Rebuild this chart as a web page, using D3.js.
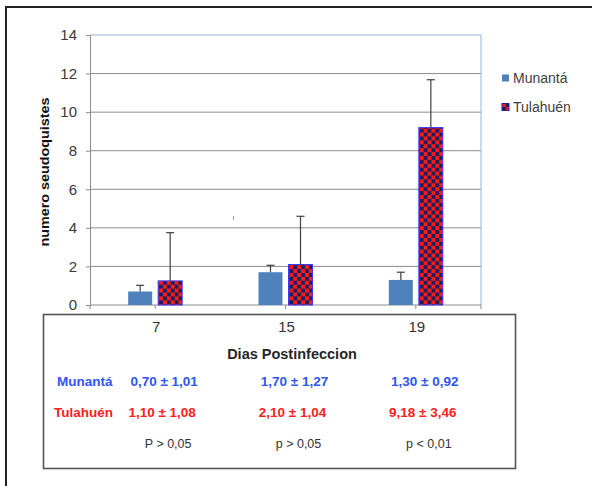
<!DOCTYPE html>
<html>
<head>
<meta charset="utf-8">
<script src="https://cdn.jsdelivr.net/npm/d3@7"></script>
<style>
  body { margin: 0; background: #fff; }
  svg { display: block; font-family: "Liberation Sans", Arial, sans-serif; }
</style>
</head>
<body>
<div id="root"></div>
<script>
// dias postinfeccion
const categories = ["7", "15", "19"]
const series = ["Munantá", "Tulahuén"]
// bar heights
const munanta = [0.70, 1.70, 1.30]
const munantaErr = [0.32, 0.36, 0.40]
const tulahuen = [1.25, 2.10, 9.20]
const tulahuenErr = [2.50, 2.50, 2.48]
const yTicks = [0, 2, 4, 6, 8, 10, 12, 14]
// table under the chart
const munantaText = ["0,70 ± 1,01", "1,70 ± 1,27", "1,30 ± 0,92"]
const tulahuenText = ["1,10 ± 1,08", "2,10 ± 1,04", "9,18 ± 3,46"]
const pText = ["P > 0,05", "p > 0,05", "p < 0,01"]

const width = 592, height = 486
const BLUE_BAR = "#4f81bd", RED = "#ff1a1a", NAVY = "#1c1f5c"
const TXT_BLUE = "#2f55f2", TXT_RED = "#ff2020"

const svg = d3.select('#root').append('svg')
  .attr('width', width)
  .attr('height', height)

// checker pattern for Tulahuén
const defs = svg.append('defs')
const pat = defs.append('pattern')
  .attr('id', 'checker')
  .attr('patternUnits', 'userSpaceOnUse')
  .attr('width', 7.8).attr('height', 7.8)
pat.append('rect').attr('width', 7.8).attr('height', 7.8).attr('fill', RED)
pat.append('rect').attr('width', 3.9).attr('height', 3.9).attr('fill', NAVY)
pat.append('rect').attr('x', 3.9).attr('y', 3.9).attr('width', 3.9).attr('height', 3.9).attr('fill', NAVY)

// outer frame (only top + left visible)
svg.append('path')
  .attr('d', `M6,${height} V7 H${width}`)
  .attr('fill', 'none')
  .attr('stroke', '#222')
  .attr('stroke-width', 2)

const x = d3.scaleBand().domain(categories).range([90, 481])
const xs = d3.scaleBand().domain(series).range([-27, 27]).paddingInner(0.2)
const y = d3.scaleLinear().domain([0, 14]).range([305, 35])
const cx = c => x(c) + x.bandwidth() / 2

// gridlines
svg.append('g')
  .selectAll('line')
  .data(yTicks.filter(d => d > 0 && d < 14))
  .enter().append('line')
  .attr('x1', 90).attr('x2', 481)
  .attr('y1', d => y(d)).attr('y2', d => y(d))
  .attr('stroke', '#8c8c8c')
  .attr('stroke-width', 1)

// plot area border top / right (bluish)
svg.append('path')
  .attr('d', `M90,${y(14)} H481 V${y(0)}`)
  .attr('fill', 'none')
  .attr('stroke', '#95b3d7')
  .attr('stroke-width', 1)

// y axis
const yAxis = svg.append('g')
  .attr('transform', 'translate(90,0)')
  .call(d3.axisLeft(y).tickValues(yTicks).tickSize(4).tickPadding(9))
yAxis.select('.domain').attr('stroke', '#8c8c8c')
yAxis.selectAll('.tick line').attr('stroke', '#8c8c8c')
yAxis.selectAll('.tick text')
  .attr('fill', '#3a3a3a')
  .style('font-size', '15px')
  .style('font-family', '"Liberation Sans", Arial, sans-serif')

// x axis line and ticks
svg.append('line')
  .attr('x1', 90).attr('x2', 481)
  .attr('y1', y(0)).attr('y2', y(0))
  .attr('stroke', '#8c8c8c')
svg.append('g')
  .selectAll('line')
  .data([90, ...categories.map(cx), 481])
  .enter().append('line')
  .attr('x1', d => d).attr('x2', d => d)
  .attr('y1', y(0)).attr('y2', y(0) + 4)
  .attr('stroke', '#8c8c8c')

// y label
svg.append('text')
  .attr('transform', `translate(49,172) rotate(-90)`)
  .attr('text-anchor', 'middle')
  .attr('textLength', 149)
  .attr('lengthAdjust', 'spacingAndGlyphs')
  .style('font-size', '12px')
  .style('font-weight', 'bold')
  .attr('fill', '#111')
  .text('numero seudoquistes')

// bars
const rows = categories.map((c, i) => ({
  c,
  vals: [
    { s: series[0], v: munanta[i], e: munantaErr[i] },
    { s: series[1], v: tulahuen[i], e: tulahuenErr[i] },
  ]
}))

const groups = svg.append('g')
  .selectAll('g')
  .data(rows)
  .enter().append('g')
  .attr('transform', d => `translate(${cx(d.c)},0)`)

groups.selectAll('rect')
  .data(d => d.vals)
  .enter().append('rect')
  .attr('x', d => xs(d.s))
  .attr('width', xs.bandwidth())
  .attr('y', d => y(d.v))
  .attr('height', d => y(0) - y(d.v))
  .attr('fill', d => d.s === series[0] ? BLUE_BAR : 'url(#checker)')
  .attr('stroke', d => d.s === series[0] ? 'none' : '#3a3aff')
  .attr('stroke-width', 1)

// error bars (plus side only)
const err = groups.selectAll('g.err')
  .data(d => d.vals)
  .enter().append('g')
  .attr('class', 'err')
  .attr('stroke', '#404040')
  .attr('stroke-width', 1.2)
err.append('line')
  .attr('x1', d => xs(d.s) + xs.bandwidth() / 2)
  .attr('x2', d => xs(d.s) + xs.bandwidth() / 2)
  .attr('y1', d => y(d.v))
  .attr('y2', d => y(d.v + d.e))
err.append('line')
  .attr('x1', d => xs(d.s) + xs.bandwidth() / 2 - 4)
  .attr('x2', d => xs(d.s) + xs.bandwidth() / 2 + 4)
  .attr('y1', d => y(d.v + d.e))
  .attr('y2', d => y(d.v + d.e))

// stray mark in the original
svg.append('line')
  .attr('x1', 233.5).attr('x2', 233.5)
  .attr('y1', 216).attr('y2', 220)
  .attr('stroke', '#999')

// legend
const legend = svg.append('g')
  .selectAll('g')
  .data(series)
  .enter().append('g')
  .attr('transform', (d, i) => `translate(502,${78 + i * 29})`)
legend.append('rect')
  .attr('x', 0).attr('y', -3.5)
  .attr('width', 7).attr('height', 7)
  .attr('fill', (d, i) => i === 0 ? BLUE_BAR : 'url(#checker)')
  .attr('stroke', (d, i) => i === 0 ? 'none' : '#2222aa')
legend.append('text')
  .attr('x', 11)
  .attr('dy', '0.35em')
  .style('font-size', '14px')
  .attr('fill', '#404040')
  .text(d => d)

// table box
svg.append('rect')
  .attr('x', 43.5).attr('y', 314.5)
  .attr('width', 472).attr('height', 154)
  .attr('fill', 'none')
  .attr('stroke', '#555')
  .attr('stroke-width', 1.6)

svg.append('g')
  .selectAll('text')
  .data(categories)
  .enter().append('text')
  .attr('x', d => cx(d) + 1)
  .attr('y', 327)
  .attr('dy', '0.35em')
  .attr('text-anchor', 'middle')
  .style('font-size', '15px')
  .attr('fill', '#333')
  .text(d => d)

svg.append('text')
  .attr('x', 292).attr('y', 354)
  .attr('dy', '0.35em')
  .attr('text-anchor', 'middle')
  .style('font-size', '14.5px')
  .style('font-weight', 'bold')
  .attr('fill', '#262626')
  .text('Dias Postinfeccion')

const tableRows = [
  { label: series[0], cells: munantaText, color: TXT_BLUE, y: 381, off: 9 },
  { label: series[1], cells: tulahuenText, color: TXT_RED, y: 412, off: 7 },
]
tableRows.forEach(r => {
  svg.append('text')
    .attr('x', r.label === series[0] ? 57 : 54)
    .attr('y', r.y)
    .attr('dy', '0.35em')
    .style('font-size', '13.5px')
    .style('font-weight', 'bold')
    .attr('fill', r.color)
    .text(r.label)
  svg.append('g')
    .selectAll('text')
    .data(r.cells)
    .enter().append('text')
    .attr('x', (d, i) => cx(categories[i]) + r.off)
    .attr('y', r.y)
    .attr('dy', '0.35em')
    .attr('text-anchor', 'middle')
    .style('font-size', '13.5px')
    .style('font-weight', 'bold')
    .attr('fill', r.color)
    .text(d => d)
})

svg.append('g')
  .selectAll('text')
  .data(pText)
  .enter().append('text')
  .attr('x', (d, i) => cx(categories[i]) + 13)
  .attr('y', 444)
  .attr('dy', '0.35em')
  .attr('text-anchor', 'middle')
  .style('font-size', '12.5px')
  .attr('fill', '#333')
  .text(d => d)
</script>
</body>
</html>
